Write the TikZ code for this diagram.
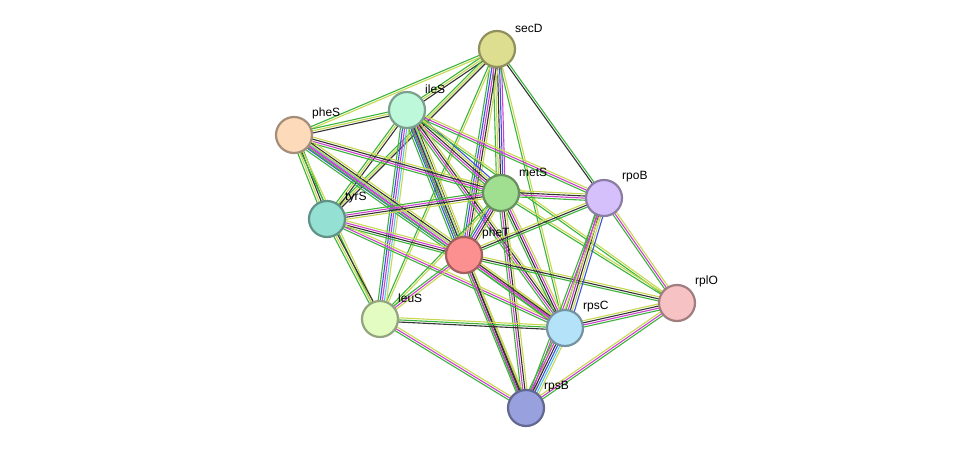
\documentclass[tikz,border=0pt]{standalone}
\usepackage{fontspec}
\setmainfont{Liberation Sans}
\usetikzlibrary{calc,backgrounds}
\definecolor{eg}{HTML}{3CB43C}\definecolor{ey}{HTML}{C8D850}\definecolor{ek}{HTML}{333333}
\definecolor{em}{HTML}{D040D0}\definecolor{eb}{HTML}{4050E0}\definecolor{ec}{HTML}{50C8E8}
\definecolor{csecD}{RGB}{222,222,144}\definecolor{cileS}{RGB}{190,248,218}
\definecolor{cpheS}{RGB}{252,218,186}\definecolor{cmetS}{RGB}{160,222,144}
\definecolor{crpoB}{RGB}{214,192,252}\definecolor{ctyrS}{RGB}{148,224,210}
\definecolor{cpheT}{RGB}{252,144,144}\definecolor{crplO}{RGB}{246,194,196}
\definecolor{cleuS}{RGB}{226,252,194}\definecolor{crpsC}{RGB}{180,226,248}
\definecolor{crpsB}{RGB}{152,160,222}
\tikzset{x=1pt,y=-1pt,
 prot/.style={circle,minimum size=36pt,inner sep=0pt,line width=2.2pt,fill=#1,draw=#1!65!black},
 lbl/.style={font=\fontsize{12}{14}\selectfont,anchor=south west,inner sep=0pt}}
\newcommand\edg[3]{%
 \foreach \c[count=\n] in {#3}{\xdef\ncount{\n}}%
 \foreach \c[count=\i] in {#3}{%
  \pgfmathsetmacro\off{(\i-(\ncount+1)/2)*2.1}%
  \draw[color=e\c,line width=1.1pt] ($(#1)!\off pt!90:(#2)$) -- ($(#2)!\off pt!-90:(#1)$);}}
\begin{document}
\begin{tikzpicture}
\useasboundingbox (0,0) rectangle (975,453);
\node[prot=csecD] (secD) at (497,49) {};
\node[prot=cileS] (ileS) at (407,110) {};
\node[prot=cpheS] (pheS) at (294,135) {};
\node[prot=cmetS] (metS) at (501,193) {};
\node[prot=crpoB] (rpoB) at (604,198) {};
\node[prot=ctyrS] (tyrS) at (327,219) {};
\node[prot=cpheT] (pheT) at (464,255) {};
\node[prot=crplO] (rplO) at (677,303) {};
\node[prot=cleuS] (leuS) at (380,319) {};
\node[prot=crpsC] (rpsC) at (565,328) {};
\node[prot=crpsB] (rpsB) at (526,408) {};
\foreach \n in {secD,ileS,pheS,metS,rpoB,tyrS,pheT,rplO,leuS,rpsC,rpsB}
  \node[lbl] (l\n) at ($(\n)+(18,-16)$) {\n};
\begin{pgfonlayer}{background}
\fill[white] (0,0) rectangle (975,453);
\edg{secD}{ileS}{g,y,k}\edg{secD}{pheS}{g,y}\edg{secD}{metS}{g,y,k,b,m}
\edg{secD}{tyrS}{g,y,k}\edg{secD}{pheT}{g,b,m,k,y}\edg{secD}{rpoB}{k,g}
\edg{secD}{leuS}{g,y}\edg{secD}{rpsC}{g,y}
\edg{ileS}{pheS}{g,y,k}\edg{ileS}{metS}{g,m,k,y,b}\edg{ileS}{tyrS}{g,y,k}
\edg{ileS}{pheT}{g,b,m,c,k,y}\edg{ileS}{leuS}{g,b,m,c,y}\edg{ileS}{rpoB}{g,m,y}
\edg{ileS}{rpsC}{g,m,k,y}\edg{ileS}{rpsB}{g,k,y}\edg{ileS}{rplO}{g,y}
\edg{pheS}{tyrS}{g,y,k,g}\edg{pheS}{metS}{g,m,k,y}\edg{pheS}{pheT}{g,b,m,c,k,y}
\edg{pheS}{leuS}{g,y}\edg{pheS}{rpsC}{g,m,y}
\edg{metS}{tyrS}{g,m,k,y}\edg{metS}{pheT}{g,b,m,k,y}\edg{metS}{rpoB}{g,m,k,y}
\edg{metS}{leuS}{g,y}\edg{metS}{rpsC}{g,k,m,y}\edg{metS}{rpsB}{g,m,k,y}\edg{metS}{rplO}{g,y}
\edg{tyrS}{pheT}{g,k,m,y}\edg{tyrS}{leuS}{g,y,k}\edg{tyrS}{rpsC}{g,m,y}
\edg{pheT}{rpoB}{g,k,y}\edg{pheT}{leuS}{g,m,y}\edg{pheT}{rpsC}{g,m,k,y}
\edg{pheT}{rpsB}{g,m,k,y}\edg{pheT}{rplO}{g,k,y}
\edg{rpoB}{rpsC}{g,m,k,y,b}\edg{rpoB}{rpsB}{g,m,y}\edg{rpoB}{rplO}{g,m,y}
\edg{leuS}{rpsC}{k,g,y}\edg{leuS}{rpsB}{g,m,y}
\edg{rpsC}{rpsB}{g,m,k,b,c,y}\edg{rpsC}{rplO}{g,m,k,y}\edg{rpsB}{rplO}{g,m,y}
\end{pgfonlayer}
\end{tikzpicture}
\end{document}
